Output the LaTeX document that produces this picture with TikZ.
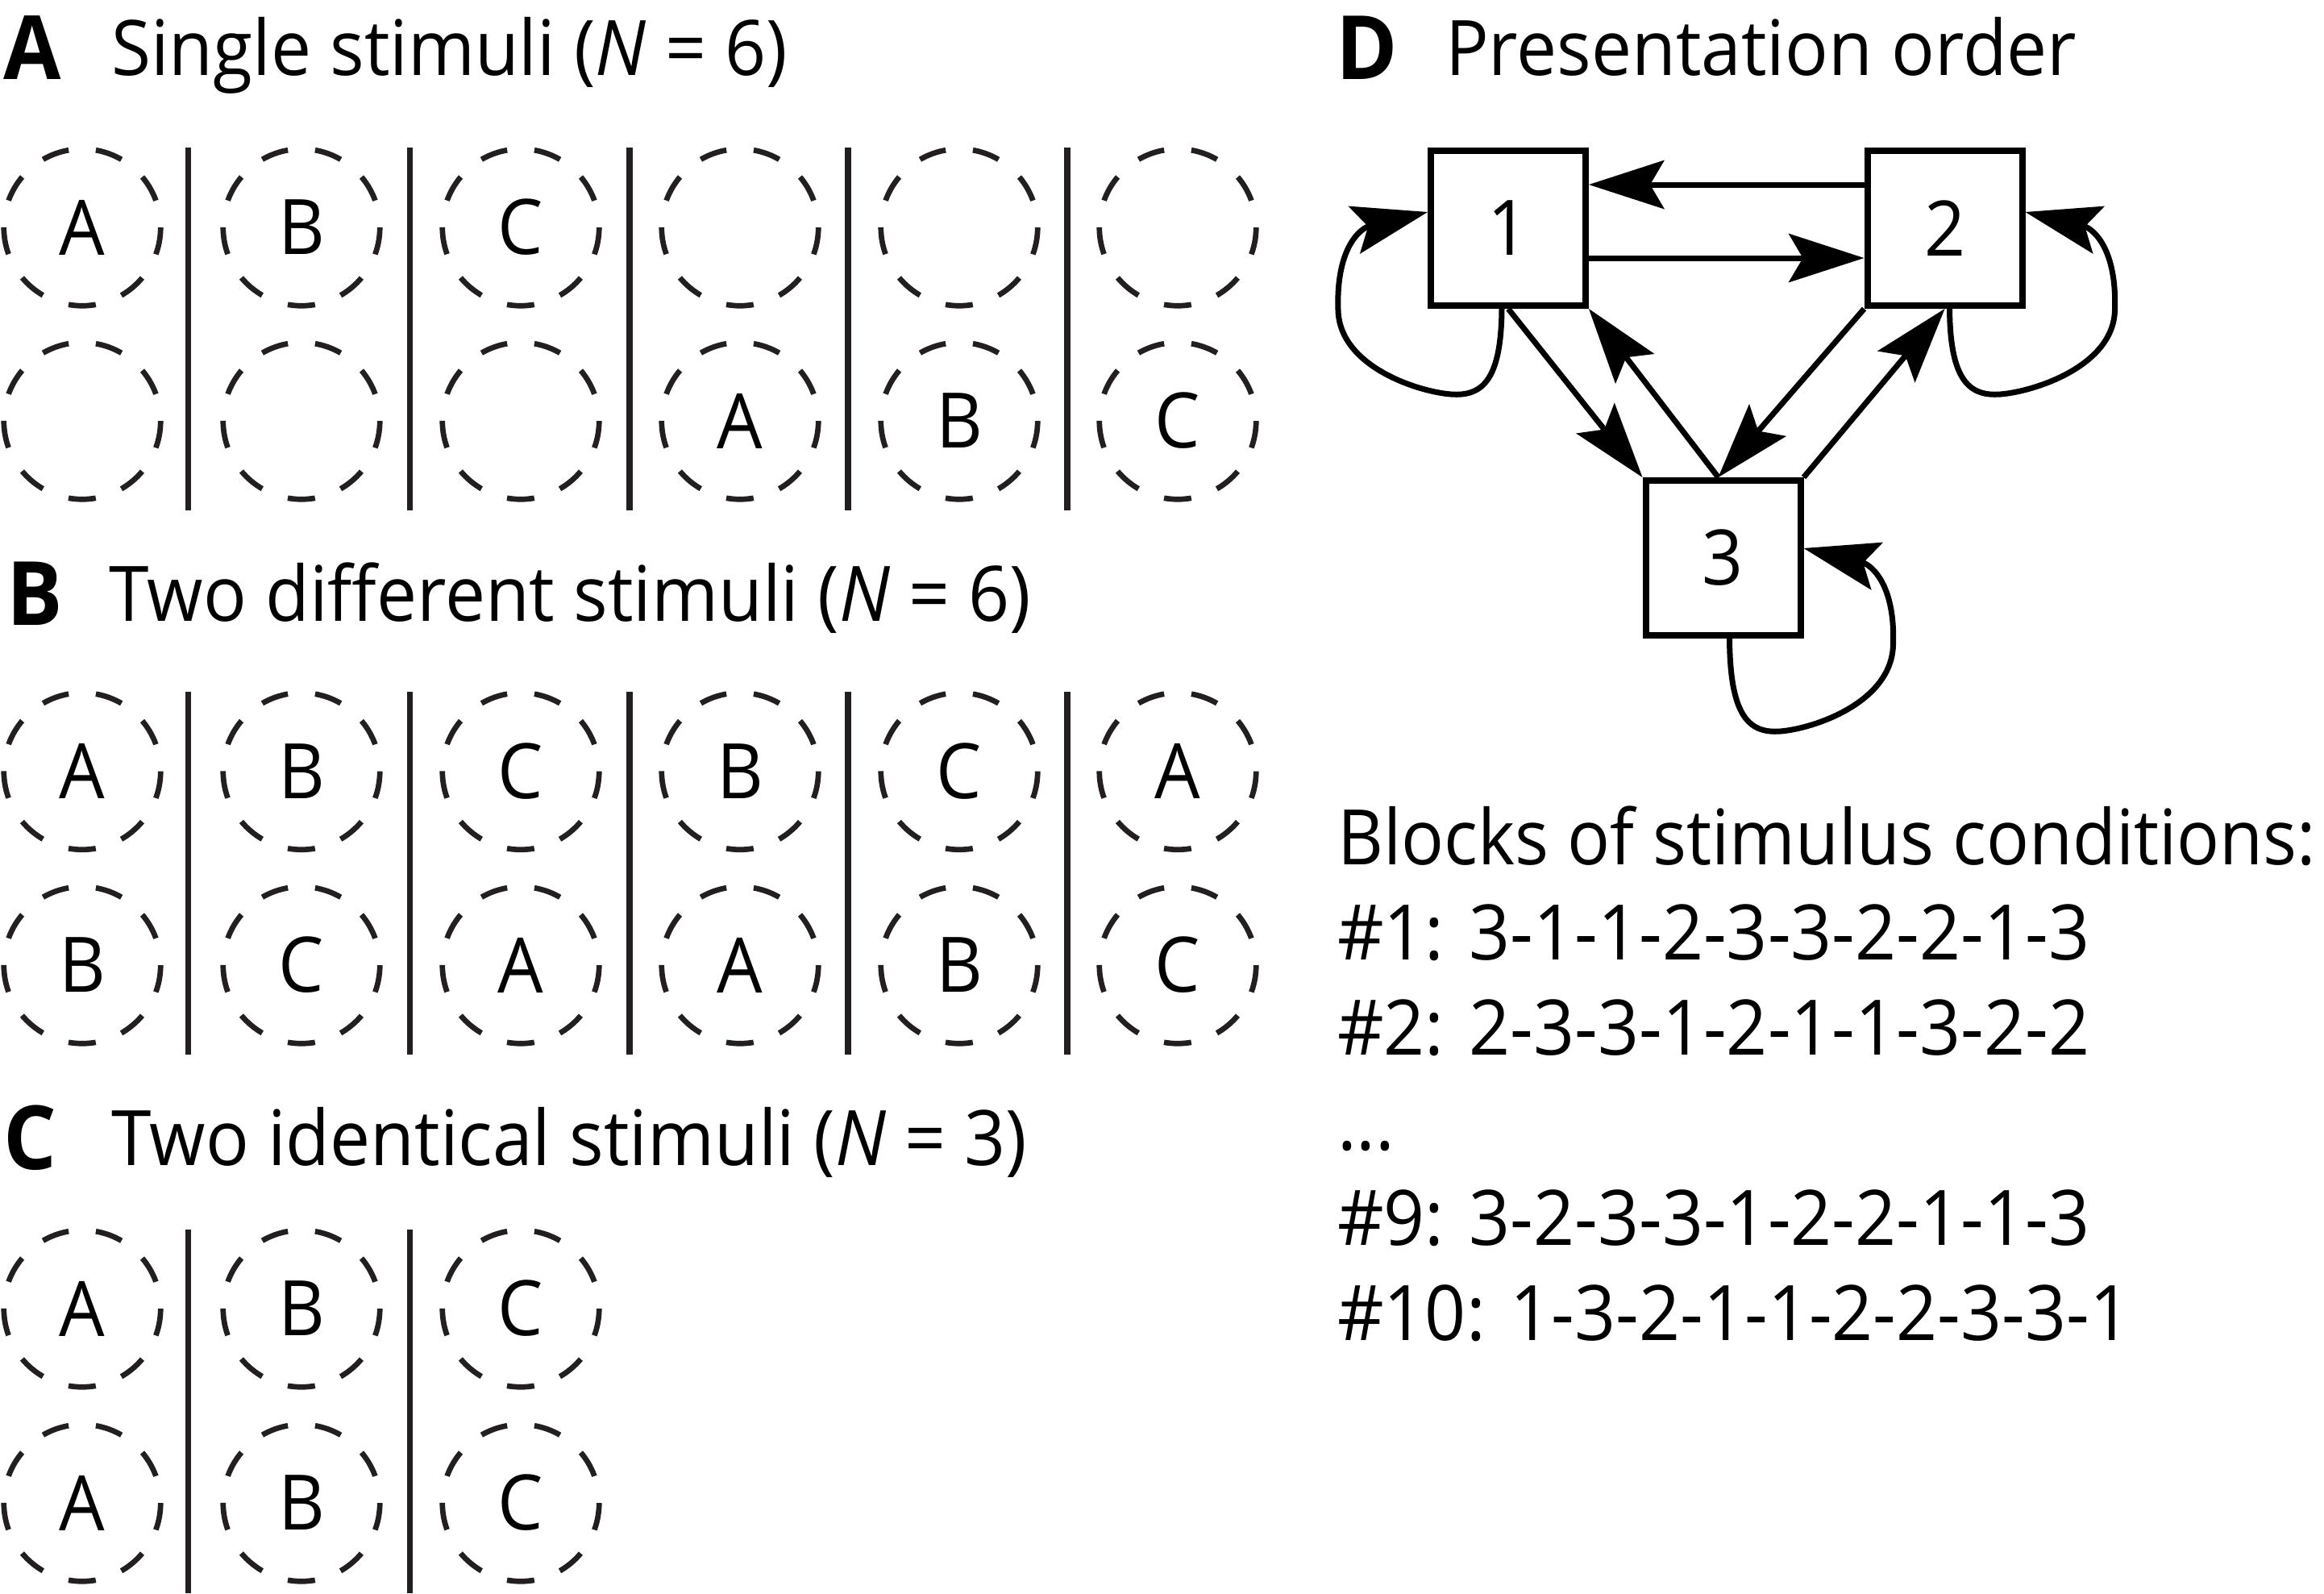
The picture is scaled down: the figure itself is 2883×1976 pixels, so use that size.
\documentclass[tikz,border=0pt]{standalone}
\usepackage{fontspec}
\setmainfont{Open Sans}[FakeStretch=0.94]
\usetikzlibrary{arrows.meta,calc}
\definecolor{ink}{HTML}{231F20}
\newcommand\regfont{\fontsize{95}{114}\selectfont}
\newcommand\panelfont{\fontsize{110}{130}\selectfont\bfseries}
\begin{document}
\begin{tikzpicture}[x=1pt,y=-1pt,
  stim/.style={circle, draw=ink, line width=6.7pt, dash pattern=on 33.94pt off 33.94pt, dash phase=33.94pt,
    minimum size=194.5pt, inner sep=0pt, outer sep=0pt, font=\regfont},
  divider/.style={draw=ink, line width=7.3pt},
  box/.style={draw, line width=8pt, minimum size=192pt, inner sep=0pt, font=\regfont},
  conn/.style={line width=7pt, -{Stealth[length=94pt,width=61pt,inset=18pt,line width=0pt]}},
  lbl/.style={anchor=base west, inner sep=0pt, font=\regfont},
  panel/.style={anchor=base west, inner sep=0pt, font=\panelfont}
]
\path[use as bounding box, fill=white] (0,0) rectangle (2883,1976);

% ---------- headings ----------
\node[panel] (pA) at (4,98) {A};
\node[lbl] (tA) at (138,93) {Single stimuli (\textit{N} = 6)};
\node[panel] (pB) at (8,775) {B};
\node[lbl] (tB) at (135,770) {Two different stimuli (\textit{N} = 6)};
\node[panel] (pC) at (4,1450) {C};
\node[lbl] (tC) at (138,1445) {Two identical stimuli (\textit{N} = 3)};
\node[panel] (pD) at (1657,98) {D};
\node[lbl] (tD) at (1793,93) {Presentation order};

% ---------- panel A ----------
\node[stim] (a11) at (102,282) {A};
\node[stim] (a12) at (374,282) {B};
\node[stim] (a13) at (646,282) {C};
\node[stim] (a14) at (918,282) {};
\node[stim] (a15) at (1190,282) {};
\node[stim] (a16) at (1461,282) {};
\node[stim] (a21) at (102,522) {};
\node[stim] (a22) at (374,522) {};
\node[stim] (a23) at (646,522) {};
\node[stim] (a24) at (918,522) {A};
\node[stim] (a25) at (1190,522) {B};
\node[stim] (a26) at (1461,522) {C};
\foreach \x in {233.5,508.5,781,1052,1324} \draw[divider] (\x,183) -- (\x,633);

% ---------- panel B ----------
\node[stim] (b11) at (102,956.5) {A};
\node[stim] (b12) at (374,956.5) {B};
\node[stim] (b13) at (646,956.5) {C};
\node[stim] (b14) at (918,956.5) {B};
\node[stim] (b15) at (1190,956.5) {C};
\node[stim] (b16) at (1461,956.5) {A};
\node[stim] (b21) at (102,1197) {B};
\node[stim] (b22) at (374,1197) {C};
\node[stim] (b23) at (646,1197) {A};
\node[stim] (b24) at (918,1197) {A};
\node[stim] (b25) at (1190,1197) {B};
\node[stim] (b26) at (1461,1197) {C};
\foreach \x in {233.5,508.5,781,1052,1324} \draw[divider] (\x,858) -- (\x,1308);

% ---------- panel C ----------
\node[stim] (c11) at (102,1623) {A};
\node[stim] (c12) at (374,1623) {B};
\node[stim] (c13) at (646,1623) {C};
\node[stim] (c21) at (102,1864) {A};
\node[stim] (c22) at (374,1864) {B};
\node[stim] (c23) at (646,1864) {C};
\foreach \x in {233.5,508.5} \draw[divider] (\x,1525) -- (\x,1976);

% ---------- panel D ----------
\node[box] (n1) at (1871,283) {1};
\node[box] (n2) at (2412.5,283) {2};
\node[box] (n3) at (2137.5,692) {3};

\draw[conn] ([yshift=54pt]n2.west) -- ([yshift=54pt]n1.east);
\draw[conn] ([yshift=-37pt]n1.east) -- ([yshift=-37pt]n2.west);
\draw[conn] (n1.south) -- (n3.north west);
\draw[conn] ([xshift=-6pt]n3.north) -- (n1.south east);
\draw[conn] (n2.south west) -- ([xshift=-6pt]n3.north);
\draw[conn] (n3.north east) -- (n2.south);

\draw[conn] ($(n1.center)+(-8,96)$)
  .. controls ($(n1.center)+(-8,187)$) and ($(n1.center)+(-31,209)$) .. ($(n1.center)+(-71,206)$)
  .. controls ($(n1.center)+(-111,203)$) and ($(n1.center)+(-209,172)$) .. ($(n1.center)+(-211,102)$)
  .. controls ($(n1.center)+(-214,17)$) and ($(n1.center)+(-178,-1)$) .. ([yshift=20pt]n1.west);
\draw[conn] ($(n2.center)+(6,96)$)
  .. controls ($(n2.center)+(6,187)$) and ($(n2.center)+(29,209)$) .. ($(n2.center)+(69,206)$)
  .. controls ($(n2.center)+(109,203)$) and ($(n2.center)+(209,172)$) .. ($(n2.center)+(211,102)$)
  .. controls ($(n2.center)+(214,17)$) and ($(n2.center)+(178,-1)$) .. ([yshift=20pt]n2.east);
\draw[conn] ($(n3.center)+(8,96)$)
  .. controls ($(n3.center)+(8,195)$) and ($(n3.center)+(31,218)$) .. ($(n3.center)+(71,215)$)
  .. controls ($(n3.center)+(111,212)$) and ($(n3.center)+(209,180)$) .. ($(n3.center)+(211,108)$)
  .. controls ($(n3.center)+(214,25)$) and ($(n3.center)+(178,7)$) .. ([yshift=12pt]n3.east);

% ---------- block list ----------
\node[lbl] (l0) at (1659,1072) {\scalebox{0.985}[1]{Blocks of stimulus conditions:}};
\node[lbl] (l1) at (1659,1190) {\#1: 3-1-1-2-3-3-2-2-1-3};
\node[lbl] (l2) at (1659,1308) {\#2: 2-3-3-1-2-1-1-3-2-2};
\node[lbl] (l3) at (1659,1426) {...};
\node[lbl] (l4) at (1659,1544) {\#9: 3-2-3-3-1-2-2-1-1-3};
\node[lbl] (l5) at (1659,1662) {\#10: 1-3-2-1-1-2-2-3-3-1};
\end{tikzpicture}
\end{document}
